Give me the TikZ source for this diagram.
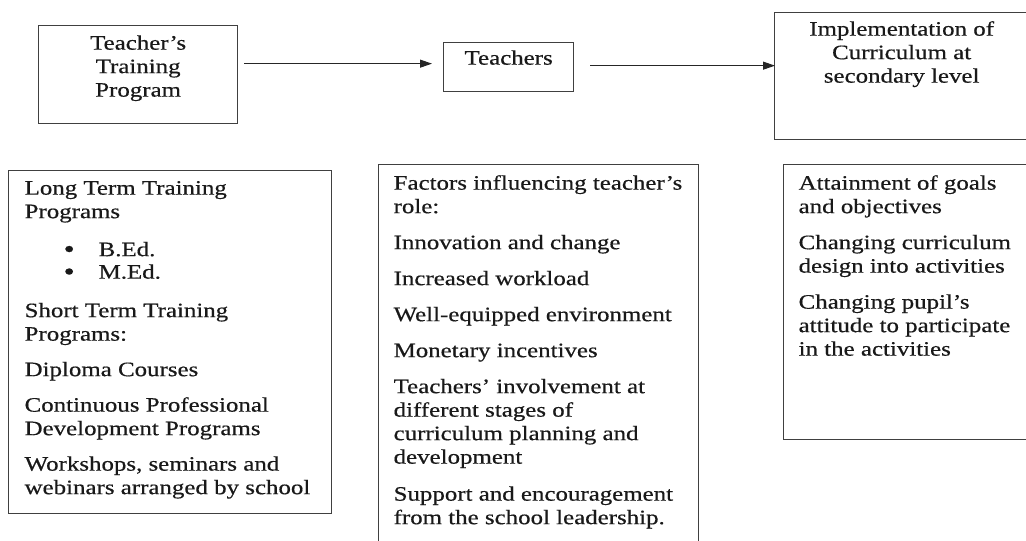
\documentclass[tikz,border=0pt]{standalone}
\usepackage{fontspec}
\setmainfont[FakeStretch=1.215, FakeBold=0.5]{Liberation Serif}
\usetikzlibrary{arrows.meta}

\tikzset{
  box/.style={draw=black!75, line width=1.3pt, inner sep=0pt, text=black!90},
  flow/.style={-{Triangle[length=12pt,width=8pt]}, line width=1.1pt, black!85}
}
\newcommand{\firstline}[1]{\rule{0pt}{#1}}
\newcommand{\bulletitem}{\makebox[74pt][l]{\hspace*{39pt}\raisebox{-1.5pt}{\smash{\fontsize{26}{26}\selectfont\textbullet}}}}

\begin{document}
\begin{tikzpicture}[x=1pt, y=-1pt, font=\fontsize{20.5}{23.5}\selectfont]
\useasboundingbox (0,0) rectangle (1026,541);
\clip (0,0) rectangle (1026,541);

% Top row ---------------------------------------
\node[box, anchor=north west] (train) at (38,25)
    {\parbox[t][98pt][t]{199pt}{\centering\firstline{24pt}Teacher's\\Training\\Program}};
\node[box, anchor=north west] (teach) at (443,42)
    {\parbox[t][49pt][t]{130pt}{\centering\firstline{22pt}Teachers}};
\node[box, anchor=north west] (impl) at (774,12)
    {\parbox[t][127pt][t]{254pt}{\centering\firstline{23pt}Implementation of\\Curriculum at\\secondary level}};

% Arrows between the top boxes
\coordinate (a1) at (train.east |- teach.west);
\coordinate (a2) at (impl.west |- teach.east);
\draw[flow] ([xshift=6pt,yshift=3.5pt]a1) -- ([xshift=-11pt,yshift=3.5pt]teach.west);
\draw[flow] ([xshift=16pt,yshift=1.5pt]teach.east) -- ([xshift=1pt,yshift=1.5pt]a2);

% Bottom row ------------------------------------
\node[box, anchor=north west, inner xsep=16pt] (longterm) at (8,170)
    {\parbox[t][343pt][t]{291pt}{\firstline{24pt}Long Term Training\\Programs\\[14.5pt]
    \bulletitem B.Ed.\\[-1pt]
    \bulletitem M.Ed.\\[15pt]
    Short Term Training\\Programs:\\[12pt]
    Diploma Courses\\[12pt]
    Continuous Professional\\Development Programs\\[12pt]
    Workshops, seminars and\\webinars arranged by school}};

\node[box, anchor=north west, inner xsep=15pt] (factors) at (378,164)
    {\parbox[t][400pt][t]{290pt}{\firstline{25pt}Factors influencing teacher's\\role:\\[12.5pt]
    Innovation and change\\[12.5pt]
    Increased workload\\[12.5pt]
    Well-equipped environment\\[12.5pt]
    Monetary incentives\\[12.5pt]
    Teachers' involvement at\\different stages of\\curriculum planning and\\development\\[13.5pt]
    Support and encouragement\\from the school leadership.}};

\node[box, anchor=north west, inner xsep=15pt] (goals) at (783,164)
    {\parbox[t][275pt][t]{230pt}{\firstline{25pt}Attainment of goals\\and objectives\\[12.5pt]
    Changing curriculum\\design into activities\\[12.5pt]
    Changing pupil's\\attitude to participate\\in the activities}};

\end{tikzpicture}
\end{document}
